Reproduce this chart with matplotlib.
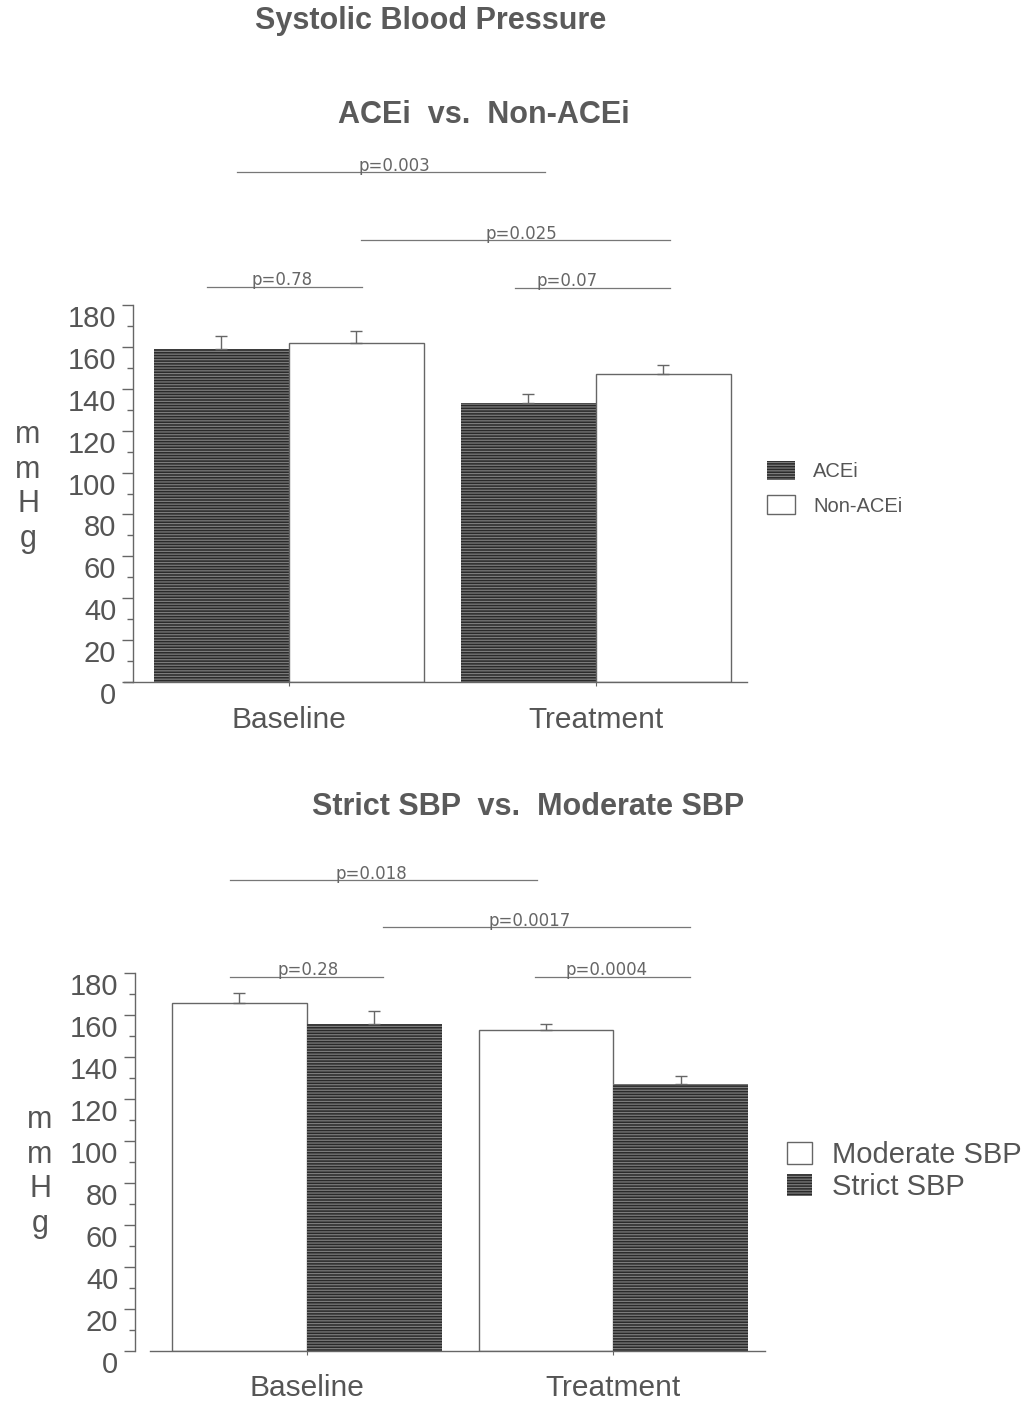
import matplotlib
matplotlib.use("Agg")
import matplotlib.pyplot as plt
from matplotlib.lines import Line2D
import numpy as np

# ---------------- data ----------------
groups = ["Baseline", "Treatment"]

acei_mean = [159, 133]
acei_err = [6, 4.6]
nonacei_mean = [162, 147]
nonacei_err = [5.5, 4.5]

moderate_mean = [166, 153]
moderate_err = [4.7, 3]
strict_mean = [156, 127]
strict_err = [6, 4]

yticks = [0, 20, 40, 60, 80, 100, 120, 140, 160, 180]

top_pvals = ["p=0.003", "p=0.025", "p=0.78", "p=0.07"]
bot_pvals = ["p=0.018", "p=0.0017", "p=0.28", "p=0.0004"]

# ---------------- style ----------------
plt.rcParams['font.family'] = ['Liberation Sans', 'DejaVu Sans']
plt.rcParams['hatch.linewidth'] = 0.9
TXT = '#555555'
AX = '#666666'
DARK = '#2a2a2a'
HATCH = '#7c7c7c'

fig = plt.figure(figsize=(10.36, 14.05), dpi=100)

W, H = 1036.0, 1405.0


def make_axes(left, right, bottom_px, top_px):
    return fig.add_axes([left / W, 1 - bottom_px / H, (right - left) / W, (bottom_px - top_px) / H])


def style_axes(ax, xlim, line_start):
    ax.set_xlim(*xlim)
    ax.set_ylim(0, 180)
    for s in ['top', 'right', 'bottom']:
        ax.spines[s].set_visible(False)
    ax.spines['left'].set_color(AX)
    ax.spines['left'].set_linewidth(1.0)
    ax.set_yticks(yticks)
    ax.set_yticks(np.arange(10, 180, 20), minor=True)
    ax.tick_params(axis='y', which='major', direction='out', length=8, width=1, color=AX,
                   labelsize=21, labelcolor=TXT, pad=4)
    ax.tick_params(axis='y', which='minor', direction='out', length=4, width=1, color=AX)
    plt.setp(ax.get_yticklabels(), va='top')
    ax.set_xticks([0, 1])
    ax.set_xticklabels(groups)
    ax.tick_params(axis='x', direction='out', length=3, width=0.8, color=AX,
                   labelsize=21.5, labelcolor=TXT, pad=14)
    ax.add_line(Line2D([line_start, 1.0], [0, 0], transform=ax.transAxes, color=AX,
                       lw=1.0, clip_on=False))


def bars(ax, x, mean, err, dark, label):
    if dark:
        b = ax.bar(x, mean, width=0.44, facecolor=DARK, edgecolor=HATCH, hatch='------',
                   linewidth=0, label=label, zorder=2)
    else:
        b = ax.bar(x, mean, width=0.44, facecolor='white', edgecolor=AX, linewidth=1.0,
                   label=label, zorder=2)
    ax.errorbar(x, mean, yerr=[np.zeros(len(err)), err], fmt='none', ecolor=AX,
                elinewidth=1.0, capsize=4, capthick=1.0, zorder=3)
    return b


def pline(ax, x0, x1, y, xt, text):
    ax.plot([x0, x1], [y, y], color='#777777', lw=0.9, clip_on=False)
    ax.text(xt, y + 0.6, text, ha='center', va='baseline', fontsize=12, color='#666666',
            family='DejaVu Sans', clip_on=False)


x = np.arange(len(groups))

# ---------------- top chart ----------------
ax1 = make_axes(133, 747, 682, 305)
b1 = bars(ax1, x - 0.22, acei_mean, acei_err, True, "ACEi")
b2 = bars(ax1, x + 0.22, nonacei_mean, nonacei_err, False, "Non-ACEi")
style_axes(ax1, (-0.508, 1.492), -0.015)

top_layout = [(-0.169, 0.834, 243.4, 0.342),
              (0.235, 1.241, 211.1, 0.756),
              (-0.267, 0.238, 188.8, -0.023),
              (0.736, 1.241, 188.3, 0.906)]
for (x0, x1, yy, xt), t in zip(top_layout, top_pvals):
    pline(ax1, x0, x1, yy, xt, t)

fig.legend(handles=[b1, b2], loc='upper left', bbox_to_anchor=(767 / W, 1 - 461 / H),
           bbox_transform=fig.transFigure, frameon=False, fontsize=14.5,
           handlelength=1.39, handleheight=1.05, handletextpad=0.9, labelspacing=0.7,
           borderpad=0, borderaxespad=0, labelcolor=TXT)

fig.text(28 / W, 1 - 487 / H, "m\nm\nH\ng", ha='center', va='center', fontsize=22,
         color=TXT, linespacing=1.2)

# ---------------- bottom chart ----------------
ax2 = make_axes(135, 765, 1350.7, 973.3)
b3 = bars(ax2, x - 0.22, moderate_mean, moderate_err, False, "Moderate SBP")
b4 = bars(ax2, x + 0.22, strict_mean, strict_err, True, "Strict SBP")
style_axes(ax2, (-0.56, 1.494), 0.024)

bot_layout = [(-0.25, 0.751, 224.5, 0.21),
              (0.249, 1.25, 201.9, 0.725),
              (-0.25, 0.249, 178.4, 0.004),
              (0.744, 1.25, 178.4, 0.976)]
for (x0, x1, yy, xt), t in zip(bot_layout, bot_pvals):
    pline(ax2, x0, x1, yy, xt, t)

fig.legend(handles=[b3, b4], loc='upper left', bbox_to_anchor=(787 / W, 1 - 1141 / H),
           bbox_transform=fig.transFigure, frameon=False, fontsize=21,
           handlelength=0.86, handleheight=0.79, handletextpad=0.68, labelspacing=0.15,
           borderpad=0, borderaxespad=0, labelcolor=TXT)

fig.text(40 / W, 1 - 1172 / H, "m\nm\nH\ng", ha='center', va='center', fontsize=22,
         color=TXT, linespacing=1.2)

# ---------------- titles ----------------
fig.text(431 / W, 1 - 21 / H, "Systolic Blood Pressure", ha='center', va='center',
         fontsize=22, fontweight='bold', color='#5a5a5a')
fig.text(484 / W, 1 - 115 / H, "ACEi  vs.  Non-ACEi", ha='center', va='center',
         fontsize=22, fontweight='bold', color='#5a5a5a')
fig.text(528 / W, 1 - 807 / H, "Strict SBP  vs.  Moderate SBP", ha='center', va='center',
         fontsize=22, fontweight='bold', color='#5a5a5a')

fig.savefig("out.png", dpi=100, facecolor='white')
